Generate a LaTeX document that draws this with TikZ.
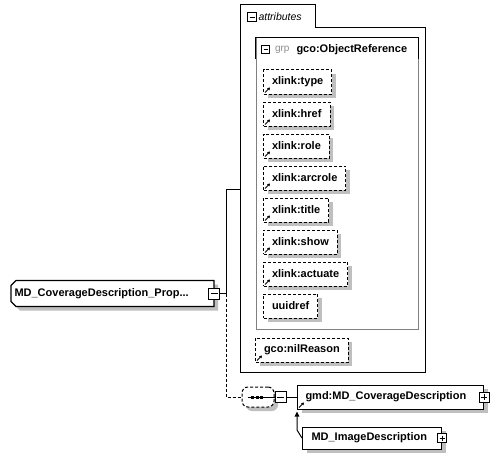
\documentclass[tikz,border=0pt]{standalone}
\usepackage{fontspec}
\setmainfont{Liberation Sans}
\usetikzlibrary{shadows,backgrounds,arrows.meta}

\begin{document}
\begin{tikzpicture}
    [x = 1pt, y = -1pt, line width = 1pt,
     every node/.style = {font = \fontsize{11}{13}\selectfont\bfseries},
     boxShadow/.style = {drop shadow = {shadow xshift = 4pt,
                         shadow yshift = -4pt, fill = black!25,
                         opacity = 1}},
     elemNode/.style = {draw, fill = white, anchor = west, align = left,
                        inner ysep = 0pt, minimum height = 24pt,
                        boxShadow},
     attrNode/.style = {elemNode, dash pattern = on 3pt off 2pt,
                        inner xsep = 8.5pt},
     seqNode/.style = {draw, fill = white, dash pattern = on 3pt off 2pt,
                       rounded corners = 6pt, minimum width = 32pt,
                       minimum height = 20pt, boxShadow},
     labelNode/.style = {anchor = west, inner sep = 0pt},
     minusBox/.style = {draw, fill = white, inner sep = 0pt,
                        minimum size = #1,
                        path picture = {\draw
                          ([xshift = 2pt] path picture bounding box.west) --
                          ([xshift = -2pt] path picture bounding box.east);}},
     minusBox/.default = 11pt,
     plusBox/.style = {draw, fill = white, inner sep = 0pt,
                       minimum size = #1,
                       path picture = {\draw
                         ([xshift = 2pt] path picture bounding box.west) --
                         ([xshift = -2pt] path picture bounding box.east)
                         ([yshift = -2pt] path picture bounding box.north) --
                         ([yshift = 2pt] path picture bounding box.south);}},
     plusBox/.default = 10pt,
     refArrow/.style = {line width = 0.8pt,
                        -{Triangle[length = 2.5pt, width = 3pt]}},
     optional/.style = {dash pattern = on 3pt off 2pt},
     extension/.style = {-{Triangle[length = 5pt, width = 4.5pt]}}]

    \useasboundingbox (0,0) rectangle (498,460);

    % attributes
    \node at (333,200) [minimum width = 184pt, minimum height = 344pt] (attrs) {};
    \draw (attrs.north west) |- (315,5) |- (attrs.north east)
          |- (attrs.south west) -- cycle;
    \node at (252,17.5) [minusBox = 9pt] (attrsMinus) {};
    \node at (258,17) [labelNode, font = \fontsize{10.5}{12}\selectfont\itshape]
          (attrsTab) {attributes};

    \node at (337,183.5) [draw = black!50, minimum width = 162pt,
                          minimum height = 291pt] (grp) {};
    \draw ([yshift = -22pt] grp.north west) -- (grp.north west)
          -- (grp.north east) -- ([yshift = -22pt] grp.north east);
    \node at (265.5,49.5) [minusBox = 8pt] (grpMinus) {};
    \node at (274.5,49.5) [labelNode, font = \fontsize{10}{12}\selectfont,
                           text = black!45] (grpKind) {grp};
    \node at (296,49.5) [labelNode] (grpName) {gco:ObjectReference};

    \node at (263, 82) [attrNode] (xType)    {xlink:type};
    \node at (263,114) [attrNode] (xHref)    {xlink:href};
    \node at (263,146) [attrNode] (xRole)    {xlink:role};
    \node at (263,178) [attrNode] (xArcrole) {xlink:arcrole};
    \node at (263,210) [attrNode] (xTitle)   {xlink:title};
    \node at (263,242) [attrNode] (xShow)    {xlink:show};
    \node at (263,274) [attrNode] (xActuate) {xlink:actuate};
    \node at (263,306) [attrNode] (uuidref)  {uuidref};
    \node at (255,350) [attrNode] (nilReason) {gco:nilReason};

    \draw [refArrow] ([shift = {(2,-2)}] xType.south west)    -- ++(5,-5);
    \draw [refArrow] ([shift = {(2,-2)}] xHref.south west)    -- ++(5,-5);
    \draw [refArrow] ([shift = {(2,-2)}] xRole.south west)    -- ++(5,-5);
    \draw [refArrow] ([shift = {(2,-2)}] xArcrole.south west) -- ++(5,-5);
    \draw [refArrow] ([shift = {(2,-2)}] xTitle.south west)   -- ++(5,-5);
    \draw [refArrow] ([shift = {(2,-2)}] xShow.south west)    -- ++(5,-5);
    \draw [refArrow] ([shift = {(2,-2)}] xActuate.south west) -- ++(5,-5);
    \draw [refArrow] ([shift = {(2,-2)}] nilReason.south west) -- ++(5,-5);

    % the element itself
    \node at (11,293.5) [labelNode, inner xsep = 3pt, text width = 196pt,
                         minimum height = 25pt] (prop)
          {MD\_CoverageDescription\_Prop...};
    \begin{scope}[on background layer]
      \draw [draw = black, line width = 1.2pt, fill = white, boxShadow]
        ([yshift = -5pt] prop.north west) -- ([xshift = 5pt] prop.north west)
        -- (prop.north east) -- (prop.south east)
        -- ([xshift = 5pt] prop.south west) -- ([yshift = 5pt] prop.south west)
        -- cycle;
    \end{scope}
    \node at (prop.east) [minusBox] (propMinus) {};
    \coordinate (fork) at (226,293.5);

    % sequence
    \node at (258,397) [seqNode] (seq) {};
    \node at (280.5,397) [minusBox] (seqMinus) {};
    \fill ([xshift = -5.5pt] seq.center) +(-1.5,-1.5) rectangle +(1.5,1.5);
    \fill ([xshift = -1pt] seq.center)   +(-1.5,-1.5) rectangle +(1.5,1.5);
    \fill ([xshift = 3.5pt] seq.center)  +(-1.5,-1.5) rectangle +(1.5,1.5);

    \node at (297,397) [elemNode, inner xsep = 8pt, text width = 170pt] (cov)
          {gmd:MD\_CoverageDescription};
    \node at (cov.east) [plusBox] (covPlus) {};
    \draw [refArrow] ([shift = {(2,-2)}] cov.south west) -- ++(5,-5);

    \node at (302,438) [elemNode, inner xsep = 9pt, text width = 121pt,
                        minimum height = 22pt] (img) {MD\_ImageDescription};
    \node at (img.east) [plusBox = 9pt] (imgPlus) {};

    \draw (propMinus) -- (fork) |- ([yshift = 11pt] attrs.west);
    \draw [optional] (fork) |- (seq);
    \draw ([xshift = 6pt] seq.west) -- (seqMinus);
    \draw (seqMinus) -- (cov.west);
    \draw [extension] (img.west) -- ++(-5,-8) -- ([yshift = -2pt] cov.south west);
\end{tikzpicture}
\end{document}
